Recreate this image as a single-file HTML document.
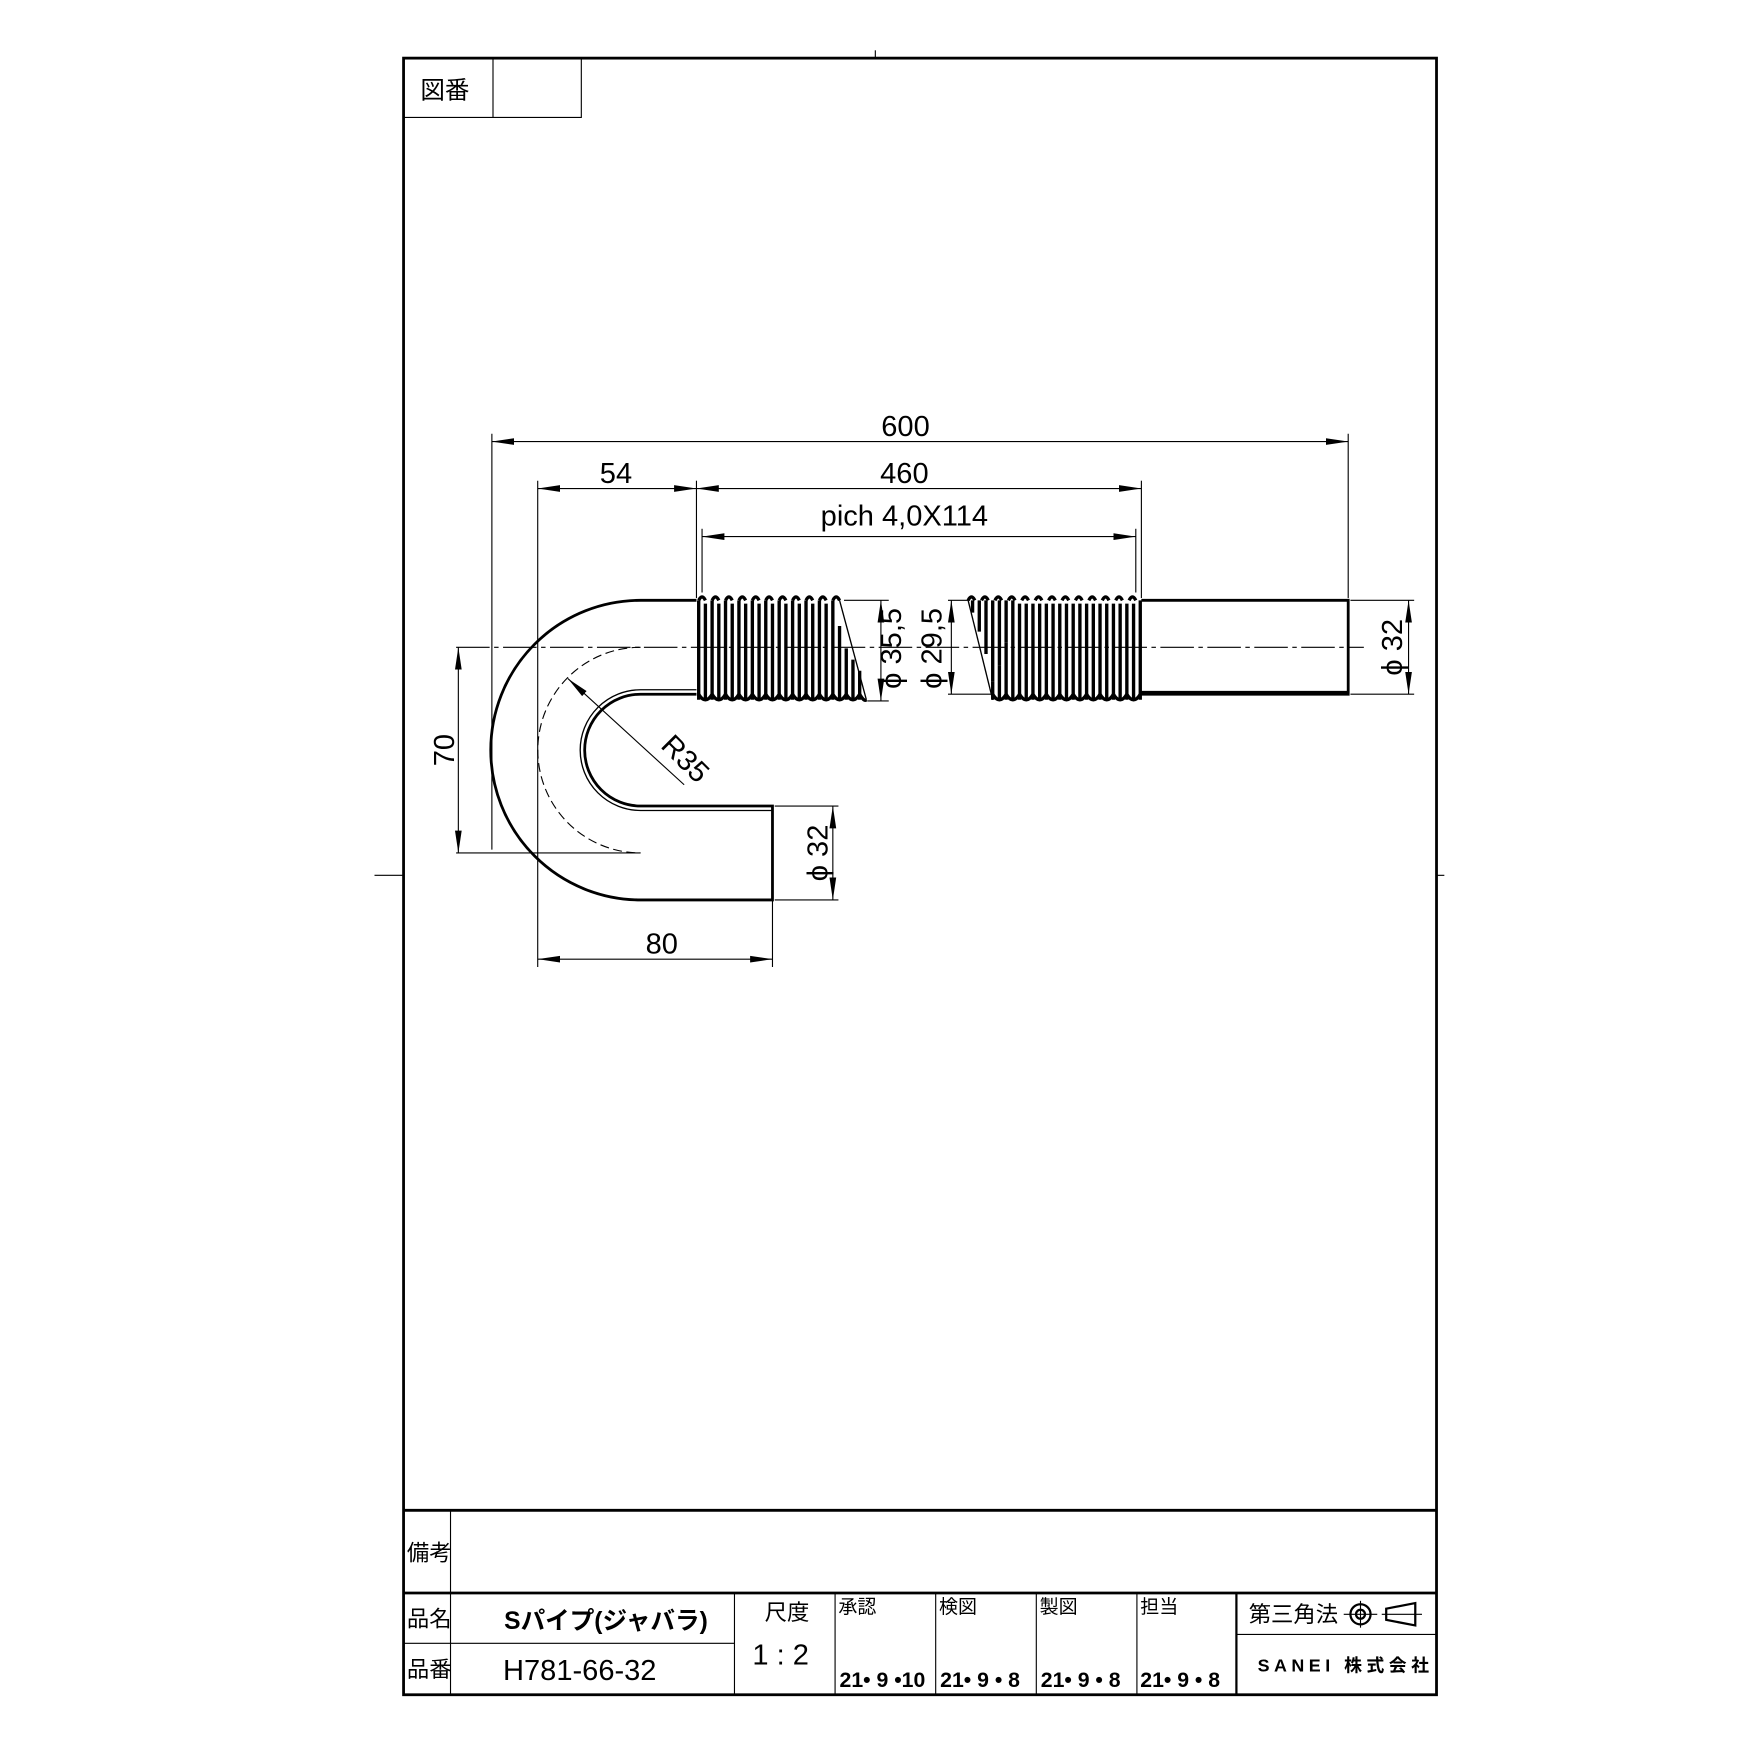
<!DOCTYPE html>
<html><head><meta charset="utf-8"><style>html,body{margin:0;padding:0;background:#fff}svg{display:block}</style></head><body>
<svg width="1754" height="1754" viewBox="0 0 1569 1569" xmlns="http://www.w3.org/2000/svg" font-family="'Liberation Sans','Noto Sans CJK JP',sans-serif">
<rect x="0" y="0" width="1570" height="1570" fill="#fff"/>
<g stroke="#000" fill="none">
<rect x="361" y="52" width="924" height="1464" stroke-width="2.5"/>
<line x1="783" y1="45" x2="783" y2="52"/><line x1="335" y1="783" x2="361" y2="783"/><line x1="1285" y1="783" x2="1292" y2="783"/>
<polyline points="361,105 520,105 520,52"/><line x1="441" y1="52" x2="441" y2="105"/>
<line x1="361" y1="1351" x2="1285" y2="1351" stroke-width="2.5"/>
<line x1="361" y1="1425" x2="1285" y2="1425" stroke-width="2.5"/>
<line x1="403" y1="1351" x2="403" y2="1516"/>
<line x1="361" y1="1470" x2="657" y2="1470"/>
<line x1="657" y1="1425" x2="657" y2="1516"/><line x1="747" y1="1425" x2="747" y2="1516"/>
<line x1="837" y1="1425" x2="837" y2="1516"/><line x1="927" y1="1425" x2="927" y2="1516"/>
<line x1="1017" y1="1425" x2="1017" y2="1516"/><line x1="1106" y1="1425" x2="1106" y2="1516" stroke-width="2"/>
<line x1="1106" y1="1462" x2="1285" y2="1462"/>
<circle cx="1217" cy="1444" r="9" stroke-width="2"/><circle cx="1217" cy="1444" r="4" stroke-width="2"/>
<line x1="1202" y1="1444" x2="1232" y2="1444"/><line x1="1217" y1="1432" x2="1217" y2="1456"/>
<polygon points="1240,1439 1266,1434 1266,1454 1240,1449" stroke-width="2"/><line x1="1236" y1="1444" x2="1272" y2="1444"/>
</g>
<g font-size="20">
<text x="376" y="88" font-size="22">図番</text>
<text x="364" y="1396">備考</text>
<text x="364" y="1455">品名</text>
<text x="364" y="1500">品番</text>
<text x="451" y="1457" font-size="22" font-weight="bold">Sパイプ(ジャバラ)</text>
<text x="450" y="1503" font-size="26">H781-66-32</text>
<text x="684" y="1449">尺度</text>
<text x="673" y="1489" font-size="26">1 : 2</text>
<text x="750" y="1443" font-size="17">承認</text><text x="840" y="1443" font-size="17">検図</text>
<text x="930" y="1443" font-size="17">製図</text><text x="1020" y="1443" font-size="17">担当</text>
<g font-size="19" font-weight="bold"><text x="751" y="1509">21• 9 •10</text><text x="841" y="1509">21• 9 • 8</text><text x="931" y="1509">21• 9 • 8</text><text x="1020" y="1509">21• 9 • 8</text></g>
<text x="1117" y="1451">第三角法</text>
<text x="1125" y="1495" font-size="16" font-weight="bold" letter-spacing="4">SANEI 株式会社</text>
</g>
<g stroke="#000" fill="none">
<line x1="408" y1="579" x2="1220" y2="579" stroke-width="1" stroke-dasharray="30,4,4,4"/>
<line x1="408" y1="763" x2="573" y2="763" stroke-width="1"/>
<path d="M573,579 A92,92 0 0 0 573,763" stroke-width="1" stroke-dasharray="8,4"/>
<path d="M623,537 L573,537 A134,134 0 0 0 573,805 L691,805 L691,721 L573,721 A50,50 0 0 1 573,621 L623,621" stroke-width="2.5"/>
<path d="M623,617 L573,617 A54,54 0 0 0 573,725 L691,725" stroke-width="1.2"/>
<polyline points="1021,537 1206,537 1206,621 1021,621" stroke-width="2.5"/>
<line x1="1021" y1="619" x2="1206" y2="619" stroke-width="2"/>
</g>
<g stroke="#000" fill="none" stroke-width="3">
<path d="M625,626 V537 M637,626 V537 M649,626 V537 M661,626 V537 M673,626 V537 M685,626 V537 M697,626 V537 M709,626 V537 M721,626 V537 M733,626 V537 M745,626 V537 M757,626 V580 M769,626 V600"/>
<path d="M631,626 V540 M643,626 V540 M655,626 V540 M667,626 V540 M679,626 V540 M691,626 V540 M703,626 V540 M715,626 V540 M727,626 V540 M739,626 V540 M751,626 V560 M763,626 V590"/>
<path d="M625,537 Q628,531 631,537 M637,537 Q640,531 643,537 M649,537 Q652,531 655,537 M661,537 Q664,531 667,537 M673,537 Q676,531 679,537 M685,537 Q688,531 691,537 M697,537 Q700,531 703,537 M709,537 Q712,531 715,537 M721,537 Q724,531 727,537 M733,537 Q736,531 739,537 M745,537 Q748,531 751,537"/>
<path d="M625,621 Q631,631 637,621 Q643,631 649,621 Q655,631 661,621 Q667,631 673,621 Q679,631 685,621 Q691,631 697,621 Q703,631 709,621 Q715,631 721,621 Q727,631 733,621 Q739,631 745,621 Q751,631 757,621 Q763,631 769,621 Q773,628 775,626"/>
<line x1="751" y1="537" x2="775" y2="626" stroke-width="1.2"/>
<path d="M888,626 V610 M900,626 V575 M912,626 V540 M924,626 V540 M936,626 V540 M948,626 V540 M960,626 V540 M972,626 V540 M984,626 V540 M996,626 V540 M1008,626 V540 M1020,626 V537"/>
<path d="M894,626 V595 M906,626 V555 M918,626 V540 M930,626 V540 M942,626 V540 M954,626 V540 M966,626 V540 M978,626 V540 M990,626 V540 M1002,626 V540 M1014,626 V540"/>
<path d="M870,537 V548 M876,537 V565 M882,537 V585 M888,537 V610 M894,537 V595 M900,537 V575 M906,537 V555"/>
<path d="M866,537 Q869,531 872,537 M878,537 Q881,531 884,537 M890,537 Q893,531 896,537 M902,537 Q905,531 908,537 M914,537 Q917,531 920,537 M926,537 Q929,531 932,537 M938,537 Q941,531 944,537 M950,537 Q953,531 956,537 M962,537 Q965,531 968,537 M974,537 Q977,531 980,537 M986,537 Q989,531 992,537 M998,537 Q1001,531 1004,537 M1010,537 Q1013,531 1016,537"/>
<path d="M888,621 Q894,631 900,621 Q906,631 912,621 Q918,631 924,621 Q930,631 936,621 Q942,631 948,621 Q954,631 960,621 Q966,631 972,621 Q978,631 984,621 Q990,631 996,621 Q1002,631 1008,621 Q1014,631 1020,621"/>
<line x1="866" y1="537" x2="888" y2="626" stroke-width="1.2"/>
</g>
<defs><marker id="a" viewBox="0 0 20 8" refX="20" refY="4" markerWidth="20" markerHeight="8" orient="auto-start-reverse" markerUnits="userSpaceOnUse"><path d="M0,1 L20,4 L0,7 Z" fill="#000"/></marker></defs>
<g stroke="#000" stroke-width="1" fill="none">
<line x1="440" y1="388" x2="440" y2="760"/><line x1="1206" y1="388" x2="1206" y2="535"/>
<line x1="481" y1="430" x2="481" y2="865"/><line x1="623" y1="430" x2="623" y2="535"/><line x1="1021" y1="430" x2="1021" y2="535"/>
<line x1="628" y1="473" x2="628" y2="530"/><line x1="1016" y1="473" x2="1016" y2="530"/>
<line x1="691" y1="805" x2="691" y2="865"/>
<line x1="440" y1="395" x2="1206" y2="395" marker-start="url(#a)" marker-end="url(#a)"/>
<line x1="481" y1="437" x2="623" y2="437" marker-start="url(#a)" marker-end="url(#a)"/>
<line x1="623" y1="437" x2="1021" y2="437" marker-start="url(#a)" marker-end="url(#a)"/>
<line x1="628" y1="480" x2="1016" y2="480" marker-start="url(#a)" marker-end="url(#a)"/>
<line x1="481" y1="858" x2="691" y2="858" marker-start="url(#a)" marker-end="url(#a)"/>
<line x1="410" y1="579" x2="410" y2="763" marker-start="url(#a)" marker-end="url(#a)"/>
<line x1="693" y1="721" x2="750" y2="721"/><line x1="693" y1="805" x2="750" y2="805"/>
<line x1="745" y1="721" x2="745" y2="805" marker-start="url(#a)" marker-end="url(#a)"/>
<line x1="755" y1="537" x2="795" y2="537"/><line x1="776" y1="627" x2="795" y2="627"/>
<line x1="788" y1="537" x2="788" y2="627" marker-start="url(#a)" marker-end="url(#a)"/>
<line x1="848" y1="537" x2="866" y2="537"/><line x1="848" y1="621" x2="888" y2="621"/>
<line x1="851" y1="537" x2="851" y2="621" marker-start="url(#a)" marker-end="url(#a)"/>
<line x1="1208" y1="537" x2="1265" y2="537"/><line x1="1208" y1="621" x2="1265" y2="621"/>
<line x1="1260" y1="537" x2="1260" y2="621" marker-start="url(#a)" marker-end="url(#a)"/>
<line x1="508" y1="607" x2="612" y2="702" marker-start="url(#a)"/>
</g>
<g font-size="26" fill="#000">
<text x="810" y="390" text-anchor="middle">600</text>
<text x="551" y="432" text-anchor="middle">54</text>
<text x="809" y="432" text-anchor="middle">460</text>
<text x="809" y="470" text-anchor="middle">pich  4,0X114</text>
<text x="592" y="853" text-anchor="middle">80</text>
<text transform="translate(406,671) rotate(-90)" text-anchor="middle">70</text>
<text transform="translate(740,763) rotate(-90)" text-anchor="middle">ϕ 32</text>
<text transform="translate(806,580) rotate(-90)" text-anchor="middle">ϕ 35,5</text>
<text transform="translate(842,580) rotate(-90)" text-anchor="middle">ϕ 29,5</text>
<text transform="translate(1254,579) rotate(-90)" text-anchor="middle">ϕ 32</text>
<text transform="translate(590,668) rotate(45)">R35</text>
</g>
</svg>
</body></html>
